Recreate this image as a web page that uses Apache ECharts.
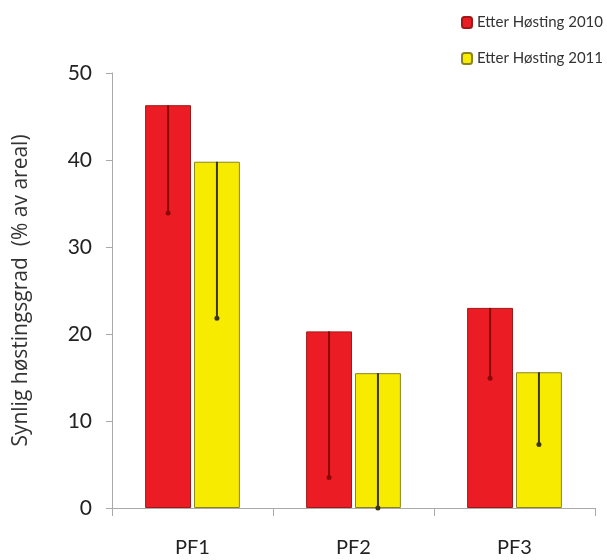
<!DOCTYPE html>
<html><head><meta charset="utf-8">
<script src="https://cdn.jsdelivr.net/npm/echarts@6/dist/echarts.min.js"></script>
<style>html,body{margin:0;padding:0;background:#fff}#c{width:607px;height:560px}</style>
</head><body><div id="c"></div>
<script>
const categories = ['PF1', 'PF2', 'PF3'];
const series2010 = [46.3, 20.3, 23.0];
const series2011 = [39.8, 15.5, 15.6];
const errLow2010 = [33.9, 3.5, 14.9];
const errLow2011 = [21.8, 0, 7.3];
const yTicks = [0, 10, 20, 30, 40, 50];
const name2010 = 'Etter Høsting 2010';
const name2011 = 'Etter Høsting 2011';

const BAR_W = 0.285, BAR_GAP = 0.065;
const font = 'Lato, "Open Sans", sans-serif';

function errRender(sign, color) {
  return function (params, api) {
    const band = api.size([1, 0])[0];
    const bw = band * BAR_W;
    const off = sign * (bw + bw * BAR_GAP) / 2;
    const top = api.coord([api.value(0), api.value(1)]);
    const low = api.coord([api.value(0), api.value(2)]);
    const x = top[0] + off;
    return {
      type: 'group',
      children: [
        { type: 'line', shape: { x1: x, y1: top[1], x2: x, y2: low[1] }, style: { stroke: color, lineWidth: 2 } },
        { type: 'circle', shape: { cx: x, cy: low[1], r: 2.5 }, style: { fill: color } }
      ]
    };
  };
}

const chart = echarts.init(document.getElementById('c'));
chart.setOption({
  animation: false,
  backgroundColor: '#fff',
  grid: { left: 112, right: 12, top: 73, bottom: 52 },
  legend: {
    orient: 'vertical', left: 456, top: 10, itemGap: 21,
    itemWidth: 10, itemHeight: 11, selectedMode: false,
    textStyle: { fontFamily: font, fontSize: 15, color: '#333' },
    data: [name2010, name2011]
  },
  xAxis: {
    type: 'category', data: categories,
    axisLine: { lineStyle: { color: '#aaa', width: 1 } },
    axisTick: { show: true, length: 8, lineStyle: { color: '#aaa' } },
    axisLabel: { fontFamily: font, fontSize: 20, color: '#222', margin: 30 }
  },
  yAxis: {
    type: 'value', min: yTicks[0], max: yTicks[yTicks.length - 1], interval: 10,
    name: 'Synlig høstingsgrad  (% av areal)', nameLocation: 'middle', nameRotate: 90, nameGap: 80,
    nameTextStyle: { fontFamily: '"Open Sans", sans-serif', fontSize: 21, color: '#333' },
    axisLine: { show: true, lineStyle: { color: '#aaa', width: 1 } },
    axisTick: { show: true, length: 6, lineStyle: { color: '#aaa' } },
    splitLine: { show: false },
    axisLabel: { fontFamily: font, fontSize: 21, color: '#222', margin: 20 }
  },
  series: [
    { name: name2010, type: 'bar', data: series2010, barWidth: (BAR_W * 100) + '%', barGap: (BAR_GAP * 100) + '%',
      itemStyle: { color: '#ec1c24', borderColor: '#a01818', borderWidth: 1 } },
    { name: name2011, type: 'bar', data: series2011, barWidth: (BAR_W * 100) + '%', barGap: (BAR_GAP * 100) + '%',
      itemStyle: { color: '#f7ec00', borderColor: '#8a8420', borderWidth: 1 } },
    { type: 'custom', renderItem: errRender(-1, '#8a0808'), z: 10,
      data: categories.map((c, i) => [i, series2010[i], errLow2010[i]]) },
    { type: 'custom', renderItem: errRender(1, '#3a3510'), z: 10,
      data: categories.map((c, i) => [i, series2011[i], errLow2011[i]]) }
  ]
});
</script></body></html>
